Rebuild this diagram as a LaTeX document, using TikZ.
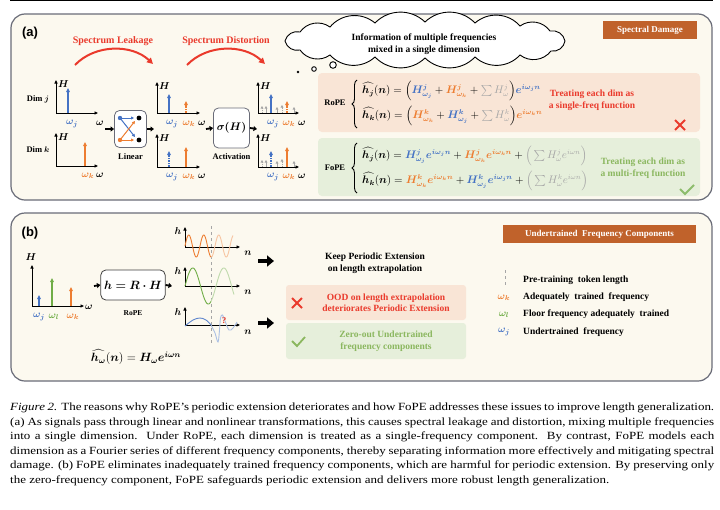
\documentclass[tikz,border=0pt]{standalone}
\usepackage{fontspec}
\setmainfont{Liberation Serif}
\setsansfont{Liberation Sans}
\usepackage{amsmath}
\usepackage{bm}
\usetikzlibrary{shapes.symbols,arrows.meta,decorations.pathreplacing,calc}
\definecolor{cblue}{HTML}{4472C4}
\definecolor{corange}{HTML}{ED7D31}
\definecolor{cgreen}{HTML}{70AD47}
\definecolor{cred}{HTML}{EA3A2C}
\definecolor{cgray}{HTML}{A6A6A6}
\definecolor{cbrown}{HTML}{C0622B}
\definecolor{cpanel}{HTML}{FCF9EF}
\definecolor{cpeach}{HTML}{F9E5D6}
\definecolor{cmint}{HTML}{E6EFDB}
\definecolor{cgtext}{HTML}{8BB75F}
\definecolor{cborder}{HTML}{6A6C78}
\newcommand{\hh}[1]{\widehat{\bm{h}_{\bm{#1}}}}
\newcommand{\capl}[1]{\scalebox{1.18}[1]{\makebox[596.6pt][s]{#1}}}
\tikzset{
 axis/.style={{Triangle[length=3.5pt,width=3pt]}-{Triangle[length=3.5pt,width=3pt]}, line width=0.9pt, black},
 spike/.style={-{Triangle[length=4pt,width=3.5pt]}, line width=1.3pt},
 dspike/.style={spike, dash pattern=on 1.6pt off 1pt},
 gspike/.style={-{Triangle[length=2.5pt,width=2.8pt]}, line width=0.8pt, cgray},
 gdspike/.style={gspike, dash pattern=on 1pt off 0.8pt},
 feed/.style={-{Triangle[length=3.5pt,width=5pt]}, line width=1.8pt},
 bigarrow/.style={-{Triangle[length=7pt,width=11pt]}, line width=4.5pt},
 lbl/.style={font=\bfseries\fontsize{8.5}{9}\selectfont, inner sep=0pt},
 sym/.style={font=\fontsize{10}{11}\selectfont, inner sep=0pt},
 opbox/.style={draw=cborder, line width=0.8pt, fill=white, rounded corners=5pt},
 panel/.style={draw=cborder, line width=1.2pt, fill=cpanel, rounded corners=14pt},
 badge/.style={fill=cbrown, text=white, font=\bfseries\fontsize{9}{10}\selectfont, inner sep=0pt},
 redarc/.style={draw=cred, line width=2pt, -{Triangle[length=6pt,width=6pt]}},
 txt/.style={font=\bfseries\fontsize{9.5}{11.5}\selectfont, align=center, inner sep=0pt},
 eq/.style={font=\fontsize{10.5}{12}\selectfont, anchor=west, inner sep=0pt},
 capline/.style={font=\fontsize{11}{13}\selectfont, anchor=west, inner sep=0pt},
 xmark/.style={draw=cred, line width=1.8pt},
 vmark/.style={draw=cgreen!80!white, line width=1.8pt},
 puff/.style={bend left=45},
}
\begin{document}
\begin{tikzpicture}[x=1pt,y=-1pt]
\fill[white] (0,0) rectangle (720,509);
\useasboundingbox (0,0) rectangle (720,509);
\draw[line width=1pt] (10,0.5) -- (713,0.5);

% ---------------- panel (a)
\draw[panel] (11,14) rectangle (712,200);
\node[font=\sffamily\bfseries\fontsize{13}{14}\selectfont, inner sep=0pt] (la) at (30,33) {(a)};

\node[font=\bfseries\fontsize{10}{11}\selectfont, text=cred, inner sep=0pt] (sl) at (113,41) {Spectrum Leakage};
\node[font=\bfseries\fontsize{10}{11}\selectfont, text=cred, inner sep=0pt] (sd) at (226,41) {Spectrum Distortion};
\draw[redarc] (75,65) .. controls (95,44) and (132,44) .. (153,64);
\draw[redarc] (187,65) .. controls (207,44) and (244,44) .. (265,64);

% Dim j / Dim k
\node[lbl] (dj) at (38,99) {Dim $\bm{j}$};
\node[lbl] (dk) at (38,150) {Dim $\bm{k}$};
\draw[axis] (56,80) -- (56,113) -- (98,113);
\draw[axis] (56,133) -- (56,166) -- (98,166);
\node[sym, anchor=west] (h1) at (58,84) {$\bm H$};
\node[sym, anchor=west] (h2) at (58,137) {$\bm H$};
\draw[spike, cblue] (68,113) -- (68,88);
\draw[spike, corange] (85,166) -- (85,142);
\node[sym, text=cblue] (o1) at (72,124) {$\bm{\omega_j}$};
\node[sym] (o2) at (100,123) {$\bm{\omega}$};
\node[sym, text=corange] (o3) at (88,176) {$\bm{\omega_k}$};
\node[sym] (o4) at (100,175) {$\bm{\omega}$};

% Linear box
\node[opbox, minimum width=32pt, minimum height=37pt] (lin) at (130.5,129) {};
\node[lbl] (linl) at (130.5,157) {Linear};
\fill[cblue] (120,118) circle (2.2pt);
\fill[corange] (120,140) circle (2.2pt);
\fill[black] (139,118) circle (2.4pt);
\fill[black] (139,140) circle (2.4pt);
\draw[cblue, line width=1pt, -{Triangle[length=3pt,width=3pt]}] (120,118) -- (134,118);
\draw[cblue, line width=1pt, -{Triangle[length=3pt,width=3pt]}] (120,118) -- (135,137);
\draw[corange, line width=1pt, -{Triangle[length=3pt,width=3pt]}] (120,140) -- (134,140);
\draw[corange, line width=1pt, -{Triangle[length=3pt,width=3pt]}] (120,140) -- (135,121);
\coordinate (linin) at (105,129);
\coordinate (linout) at (154,129);
\draw[feed] (linin) -- (lin.west);
\draw[feed] (lin.east) -- (linout);

% middle plots
\draw[axis] (157,82) -- (157,113) -- (200,113);
\draw[axis] (157,134) -- (157,167) -- (200,167);
\node[sym, anchor=west] (h3) at (159,86) {$\bm H$};
\node[sym, anchor=west] (h4) at (159,138) {$\bm H$};
\draw[spike, cblue] (169,113) -- (169,94);
\draw[dspike, corange] (186,113) -- (186,101);
\draw[dspike, cblue] (169,167) -- (169,151);
\draw[spike, corange] (186,167) -- (186,147);
\node[sym, text=cblue] (o5) at (172,124) {$\bm{\omega_j}$};
\node[sym, text=corange] (o6) at (189,124) {$\bm{\omega_k}$};
\node[sym] (o7) at (202,123) {$\bm{\omega}$};
\node[sym, text=cblue] (o8) at (172,177) {$\bm{\omega_j}$};
\node[sym, text=corange] (o9) at (189,177) {$\bm{\omega_k}$};
\node[sym] (o10) at (202,176) {$\bm{\omega}$};

% activation
\node[opbox, minimum width=32pt, minimum height=40pt] (act) at (231.5,128) {\fontsize{11}{12}\selectfont$\bm{\sigma(H)}$};
\node[lbl] (actl) at (231.5,157) {Activation};
\coordinate (actin) at (206,129);
\coordinate (actout) at (257,129);
\draw[feed] (actin) -- (act.west);
\draw[feed] (act.east) -- (actout);

% right plots
\draw[axis] (258,82) -- (258,113) -- (299,113);
\draw[axis] (258,134) -- (258,167) -- (299,167);
\node[sym, anchor=west] (h5) at (260,86) {$\bm H$};
\node[sym, anchor=west] (h6) at (260,138) {$\bm H$};
\foreach \yy in {113,167} {
  \draw[gdspike] (262,\yy) -- (262,\yy-7);
  \draw[gspike] (266,\yy) -- (266,\yy-7);
  \draw[gspike] (277,\yy) -- (277,\yy-6);
  \draw[gdspike] (282,\yy) -- (282,\yy-8);
  \draw[gspike] (294,\yy) -- (294,\yy-6);
}
\draw[spike, cblue] (271,113) -- (271,94);
\draw[dspike, corange] (287,113) -- (287,101);
\draw[dspike, cblue] (271,167) -- (271,151);
\draw[spike, corange] (287,167) -- (287,147);
\node[sym, text=cblue] (o11) at (273,124) {$\bm{\omega_j}$};
\node[sym, text=corange] (o12) at (289,124) {$\bm{\omega_k}$};
\node[sym] (o13) at (302,123) {$\bm{\omega}$};
\node[sym, text=cblue] (o14) at (273,177) {$\bm{\omega_j}$};
\node[sym, text=corange] (o15) at (289,177) {$\bm{\omega_k}$};
\node[sym] (o16) at (302,176) {$\bm{\omega}$};

% cloud
\draw[line width=0.9pt, fill=white] (285,41) to[puff] (300,32) to[puff] (330,27) to[puff] (375,23) to[puff] (425,22) to[puff] (475,23) to[puff] (520,26) to[puff] (550,31) to[puff] (565,41) to[puff] (551,51) to[puff] (520,55) to[puff] (475,57) to[puff] (425,58) to[puff] (375,57) to[puff] (330,55) to[puff] (300,50) to[puff] (285,41) -- cycle;
\node[txt] (clt) at (424,44) {Information of multiple frequencies\\mixed in a single dimension};
\fill (298,72) circle (1.4pt);
\draw[line width=0.9pt, fill=white] (314,69) circle (2.3pt);
\draw[line width=0.9pt, fill=white] (333,65) circle (3.3pt);

\node[badge, minimum width=94pt, minimum height=18pt] (sdb) at (650,30) {Spectral Damage};

% RoPE / FoPE boxes
\fill[cpeach, rounded corners=4pt] (318,73) rectangle (700,132);
\fill[cmint, rounded corners=4pt] (318,138) rectangle (700,196);
\node[lbl] (rope) at (335,103) {RoPE};
\node[lbl] (fope) at (335,168) {FoPE};
\draw[decorate, decoration={brace, amplitude=5pt}, line width=0.9pt] (357,128) -- (357,80);
\draw[decorate, decoration={brace, amplitude=5pt}, line width=0.9pt] (357,193) -- (357,143);

\node[eq] (e1) at (362,91) {$\hh{j}(\bm n) = \Big(\textcolor{cblue}{\bm{H}^{\bm j}_{\bm{\omega_j}}} + \textcolor{corange}{\bm{H}^{\bm j}_{\bm{\omega_k}}} + \textcolor{cgray}{\textstyle\sum H^{j}_{\omega}}\Big)\textcolor{cblue}{\bm{e^{i\omega_j n}}}$};
\node[eq] (e2) at (362,116) {$\hh{k}(\bm n) = \Big(\textcolor{corange}{\bm{H}^{\bm k}_{\bm{\omega_k}}} + \textcolor{cblue}{\bm{H}^{\bm k}_{\bm{\omega_j}}} + \textcolor{cgray}{\textstyle\sum H^{k}_{\omega}}\Big)\textcolor{corange}{\bm{e^{i\omega_k n}}}$};
\node[eq] (e3) at (362,156) {$\hh{j}(\bm n) = \textcolor{cblue}{\bm{H}^{\bm j}_{\bm{\omega_j}}\bm{e^{i\omega_j n}}} + \textcolor{corange}{\bm{H}^{\bm j}_{\bm{\omega_k}}\bm{e^{i\omega_k n}}} + \textcolor{cgray}{\Big(\textstyle\sum H^{j}_{\omega}e^{i\omega n}\Big)}$};
\node[eq] (e4) at (362,181) {$\hh{k}(\bm n) = \textcolor{corange}{\bm{H}^{\bm k}_{\bm{\omega_k}}\bm{e^{i\omega_k n}}} + \textcolor{cblue}{\bm{H}^{\bm k}_{\bm{\omega_j}}\bm{e^{i\omega_j n}}} + \textcolor{cgray}{\Big(\textstyle\sum H^{k}_{\omega}e^{i\omega n}\Big)}$};

\node[txt, text=cred] (tr) at (592,100) {Treating each dim as\\a single-freq function};
\draw[xmark] (675,120) -- (685,130) (675,130) -- (685,120);
\node[txt, text=cgtext] (tf) at (643,168) {Treating each dim as\\a multi-freq function};
\draw[vmark] (680,189) -- (685,194) -- (694,185);

% ---------------- panel (b)
\draw[panel] (11,213) rectangle (712,381);
\node[font=\sffamily\bfseries\fontsize{13}{14}\selectfont, inner sep=0pt] (lb) at (30,233) {(b)};

\draw[axis] (32,265) -- (32,306) -- (84,306);
\node[sym] (hb) at (31,257) {$\bm H$};
\node[sym] (ob) at (89,307) {$\bm{\omega}$};
\draw[spike, cblue] (39,306) -- (39,295);
\draw[spike, cgreen] (52,306) -- (52,278);
\draw[spike, corange] (71,306) -- (71,287);
\node[sym, text=cblue] (b1) at (39,317) {$\bm{\omega_j}$};
\node[sym, text=cgreen] (b2) at (54,317) {$\bm{\omega_l}$};
\node[sym, text=corange] (b3) at (73,317) {$\bm{\omega_k}$};

\node[opbox, minimum width=62pt, minimum height=30pt, draw=black!75] (hr) at (133,285) {\fontsize{11.5}{12}\selectfont$\bm{h = R\cdot H}$};
\node[lbl, font=\bfseries\fontsize{7.5}{8}\selectfont] (ropeb) at (133,313) {RoPE};
\coordinate (hrin) at (94,286);
\coordinate (hrout) at (172,286);
\draw[feed] (hrin) -- (hr.west);
\draw[feed] (hr.east) -- (hrout);
\node[inner sep=0pt, font=\fontsize{12}{13}\selectfont] (fw) at (136,357) {$\widehat{\bm{h}_{\bm\omega}}(\bm n) = \bm{H_\omega e^{i\omega n}}$};

% waves
\draw[cgray, dashed, line width=0.7pt] (211,226) -- (211,344);
\draw[axis] (185,227) -- (185,247) -- (240,247);
\draw[axis] (185,267) -- (185,286) -- (240,286);
\draw[axis] (185,307) -- (185,325) -- (240,325);
\foreach \yy/\nm in {231/1,271/2,312/3} \node[sym] (hw\nm) at (178,\yy) {$\bm h$};
\foreach \yy/\nm in {253/1,292/2,332/3} \node[sym] (nw\nm) at (248,\yy) {$\bm n$};
\draw[corange, line width=0.9pt] plot[domain=0:26, samples=80] ({185+\x},{246-11*sin(24*\x)});
\draw[corange!45, line width=0.9pt] plot[domain=26:48, samples=80] ({185+\x},{246-11*sin(24*\x)});
\draw[cgreen, line width=0.9pt] plot[domain=0:26, samples=80] ({185+\x},{286-18*sin(11.6*\x)});
\draw[cgreen!45, line width=0.9pt] plot[domain=26:49, samples=80] ({185+\x},{286-18*sin(11.6*\x)});
\draw[cblue!85, line width=0.9pt] plot[smooth, tension=0.6] coordinates {(185,326) (193,320) (200,318) (206,320) (211,325)};
\draw[cblue!45, line width=0.9pt] plot[smooth, tension=0.6] coordinates {(211,325) (215,333) (218,342) (219.5,330) (220.5,318) (222.5,315) (225,321) (229,330) (233,328) (237,322)};
\node[font=\bfseries\fontsize{9}{10}\selectfont, text=cred, inner sep=0pt] (qm) at (224,321) {?};

\coordinate (ba1s) at (258,261); \coordinate (ba1e) at (274,261);
\coordinate (ba2s) at (258,323); \coordinate (ba2e) at (274,323);
\draw[bigarrow] (ba1s) -- (ba1e);
\draw[bigarrow] (ba2s) -- (ba2e);

\node[txt, text=black] (kp) at (375,263) {Keep Periodic Extension\\on length extrapolation};
\fill[cpeach, rounded corners=3pt] (286,285) rectangle (466,320);
\fill[cmint, rounded corners=3pt] (286,323) rectangle (466,359);
\draw[xmark] (292,298) -- (302,308) (292,308) -- (302,298);
\node[txt, text=cred] (ood) at (386,302.5) {OOD on length extrapolation\\deteriorates Periodic Extension};
\draw[vmark, draw=cgtext] (292,341) -- (297,346) -- (305,337);
\node[txt, text=cgtext] (zo) at (386,341) {Zero-out Undertrained\\frequency components};

\node[badge, minimum width=193pt, minimum height=18pt] (ufc) at (599.5,234) {Undertrained\ \ Frequency Components};
\draw[cgray, dashed, line width=0.9pt] (505,270) -- (505,287);
\node[txt, anchor=west] (l1) at (523,280) {Pre-training\ \ token length};
\node[sym, text=corange] (s2) at (504,298) {$\bm{\omega_k}$};
\node[txt, anchor=west] (l2) at (523,297) {Adequately\ \ trained\ \ frequency};
\node[sym, text=cgreen] (s3) at (504,315) {$\bm{\omega_l}$};
\node[txt, anchor=west] (l3) at (523,314) {Floor frequency adequately\ \ trained};
\node[sym, text=cblue] (s4) at (504,332) {$\bm{\omega_j}$};
\node[txt, anchor=west] (l4) at (523,332) {Undertrained\ \ frequency};

% ---------------- caption
\node[capline] (c1) at (10,408) {\capl{\textit{Figure 2.} The reasons why RoPE's periodic extension deteriorates and how FoPE addresses these issues to improve length generalization.}};
\node[capline] (c2) at (10,422.5) {\capl{(a) As signals pass through linear and nonlinear transformations, this causes spectral leakage and distortion, mixing multiple frequencies}};
\node[capline] (c3) at (10,437) {\capl{into a single dimension.\ \ Under RoPE, each dimension is treated as a single-frequency component.\ \ By contrast, FoPE models each}};
\node[capline] (c4) at (10,451.5) {\capl{dimension as a Fourier series of different frequency components, thereby separating information more effectively and mitigating spectral}};
\node[capline] (c5) at (10,466) {\capl{damage. (b) FoPE eliminates inadequately trained frequency components, which are harmful for periodic extension. By preserving only}};
\node[capline] (c6) at (10,480.5) {\scalebox{1.18}[1]{the zero-frequency component, FoPE safeguards periodic extension and delivers more robust length generalization.}};
\end{tikzpicture}
\end{document}
